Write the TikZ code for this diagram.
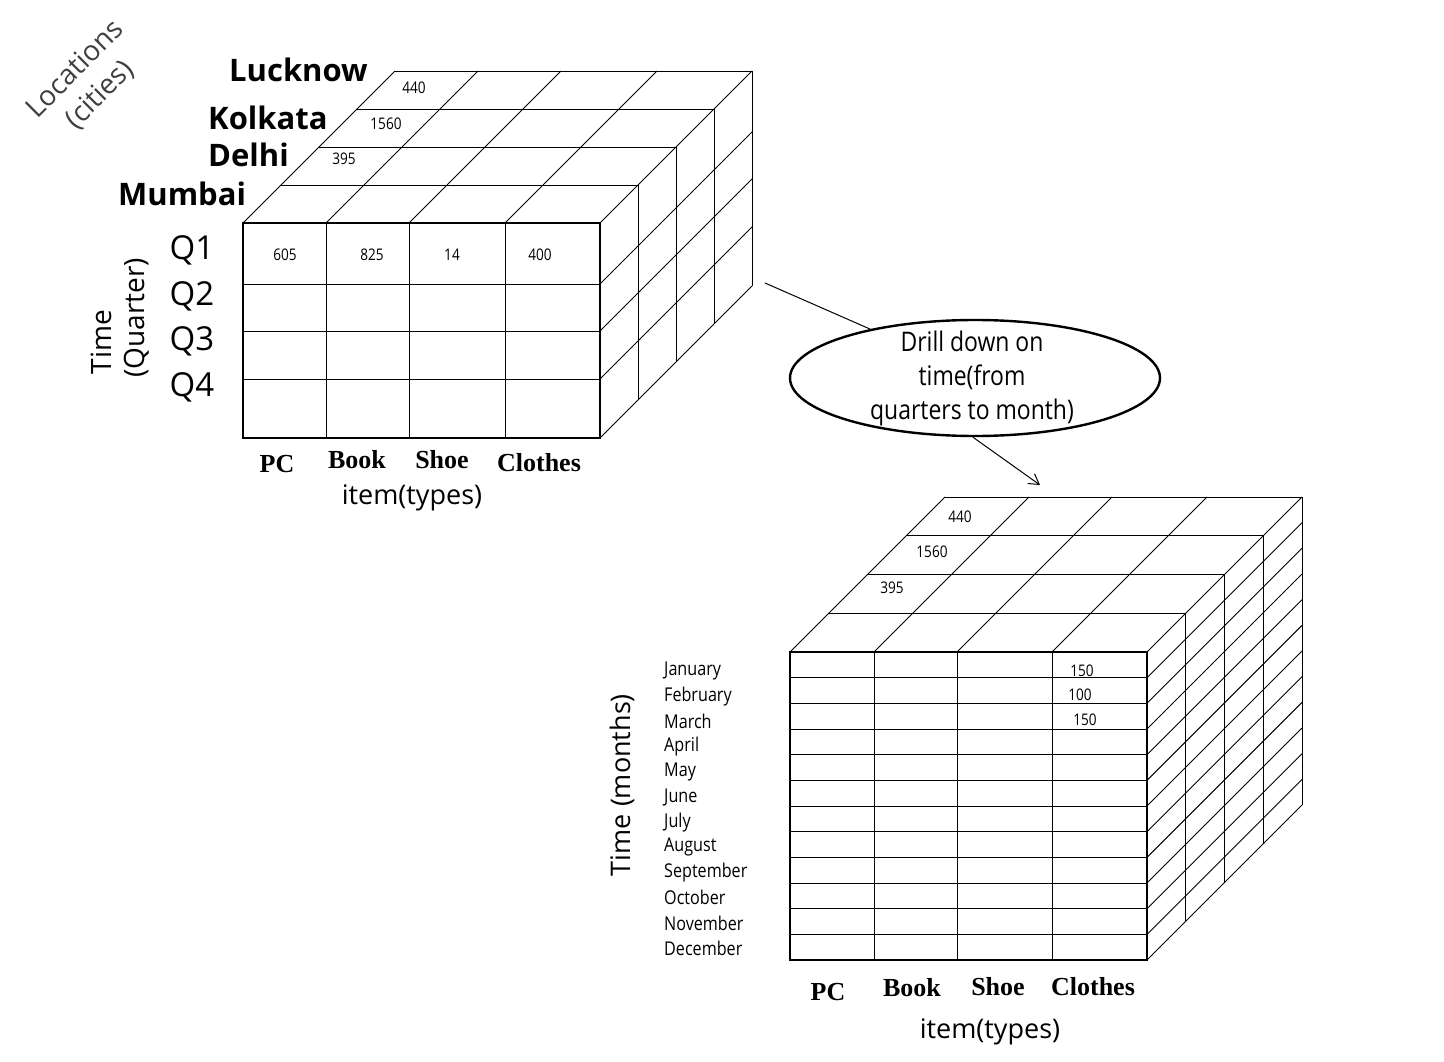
\documentclass[tikz,border=0pt]{standalone}
\usepackage{fontspec}
\usetikzlibrary{shapes.geometric,arrows.meta}
\setmainfont{Liberation Serif}
\newfontfamily\osans{Open Sans}
\newfontfamily\nsans{Open Sans}[FakeStretch=0.85]
\begin{document}
\begin{tikzpicture}[x=1pt,y=-1pt,
  lab/.style={font=\osans\bfseries\fontsize{31}{31}\selectfont},
  qlab/.style={font=\osans\fontsize{33}{33}\selectfont},
  num/.style={font=\nsans\fontsize{16}{16}\selectfont},
  item/.style={font=\bfseries\fontsize{26}{26}\selectfont},
  axis/.style={font=\osans\fontsize{27}{27}\selectfont,align=center},
  mon/.style={font=\nsans\fontsize{19}{19}\selectfont,anchor=west},
  grid/.style={line width=0.9pt},
  front/.style={line width=2.4pt}]
\useasboundingbox (0,0) rectangle (1444,1062);
% ---------- top cube ----------
\def\d{38}
\begin{scope}
 \foreach \k in {1,...,4}{
  \draw[grid] (243+\k*\d,223-\k*\d) -- (600+\k*\d,223-\k*\d);
  \draw[grid] (600+\k*\d,223-\k*\d) -- (600+\k*\d,438-\k*\d);}
 \foreach \x in {243,326,409,505,600} \draw[grid] (\x,223) -- (\x+4*\d,223-4*\d);
 \foreach \y in {284,331,379,438} \draw[grid] (600,\y) -- (600+4*\d,\y-4*\d);
 \foreach \x in {326,409,505} \draw[grid] (\x,223) -- (\x,438);
 \foreach \y in {284,331,379} \draw[grid] (243,\y) -- (600,\y);
 \draw[front] (243,223) rectangle (600,438);
\end{scope}
\node[num] (a1) at (285,255) {605};
\node[num] (a2) at (372,255) {825};
\node[num] (a3) at (452,255) {14};
\node[num] (a4) at (540,255) {400};
\node[num] (t1) at (414,88) {440};
\node[num] (t2) at (386,124) {1560};
\node[num] (t3) at (344,159) {395};
\node[lab,anchor=west,inner sep=1pt] (lk) at (228,70) {Lucknow};
\node[lab,anchor=west,inner sep=1pt] (ko) at (207,118) {Kolkata};
\node[lab,anchor=west,inner sep=1pt] (de) at (207,155) {Delhi};
\node[lab,anchor=west,inner sep=1pt] (mu) at (117,194) {Mumbai};
\node[axis,rotate=45,text=black!75,inner sep=0pt,font=\osans\fontsize{28}{30}\selectfont] (loc1) at (74,68) {Locations};
\node[axis,rotate=45,text=black!75,inner sep=0pt,font=\osans\fontsize{28}{30}\selectfont] (loc2) at (100,95) {(cities)};
\node[qlab] (q1) at (192,250) {Q1};
\node[qlab] (q2) at (192,296) {Q2};
\node[qlab] (q3) at (192,341) {Q3};
\node[qlab] (q4) at (192,387) {Q4};
\node[axis,rotate=90,inner sep=0pt,font=\osans\fontsize{28}{31}\selectfont] (tq1) at (101,342) {Time};
\node[axis,rotate=90,inner sep=0pt,font=\osans\fontsize{28}{31}\selectfont] (tq2) at (137,318) {(Quarter)};
\node[item] (i1) at (277,464) {PC};
\node[item] (i2) at (357,460) {Book};
\node[item] (i3) at (442,460) {Shoe};
\node[item] (i4) at (539,463) {Clothes};
\node[axis] (it1) at (412,498) {item(types)};
% ---------- ellipse ----------
\node[draw,ellipse,line width=2.4pt,minimum width=370pt,minimum height=116pt,inner sep=0pt] (dd) at (975,378) {};
\node[axis,font=\nsans\fontsize{27}{34}\selectfont] (ddt) at (972,378) {Drill down on\\time(from\\quarters to month)};
\coordinate (c1) at (765,283);
\coordinate (c2) at (1040,485);
\draw[line width=1pt] (c1) -- (dd.155);
\draw[line width=1pt,-{Straight Barb[length=10pt,width=12pt]}] (dd.-92) -- (c2);
% ---------- bottom cube ----------
\def\e{38.75}
\begin{scope}
 \foreach \k in {1,...,4}{
  \draw[grid] (790+\k*\e,652-\k*\e) -- (1147+\k*\e,652-\k*\e);
  \draw[grid] (1147+\k*\e,652-\k*\e) -- (1147+\k*\e,960-\k*\e);}
 \foreach \x in {790,874,957,1052,1147} \draw[grid] (\x,652) -- (\x+4*\e,652-4*\e);
 \foreach \j in {1,...,12} \draw[grid] (1147,652+\j*25.67) -- (1147+4*\e,652+\j*25.67-4*\e);
 \foreach \x in {874,957,1052} \draw[grid] (\x,652) -- (\x,960);
 \foreach \j in {1,...,11} \draw[grid] (790,652+\j*25.67) -- (1147,652+\j*25.67);
 \draw[front] (790,652) rectangle (1147,960);
\end{scope}
\node[num] (b1) at (960,517) {440};
\node[num] (b2) at (932,552) {1560};
\node[num] (b3) at (892,588) {395};
\node[num] (n1) at (1082,671) {150};
\node[num] (n2) at (1080,695) {100};
\node[num] (n3) at (1085,720) {150};
\foreach \m [count=\i] in {January,February,March,April,May,June,July,August,September,October,November,December}
  \node[mon,inner sep=0pt] (m\i) at (664,671+\i*25.2-25.2) {\m};
\node[axis,rotate=90] (tm) at (622,785) {Time (months)};
\node[item] (j1) at (828,992) {PC};
\node[item] (j2) at (912,988) {Book};
\node[item] (j3) at (998,987) {Shoe};
\node[item] (j4) at (1093,987) {Clothes};
\node[axis] (it2) at (990,1032) {item(types)};
\end{tikzpicture}
\end{document}
